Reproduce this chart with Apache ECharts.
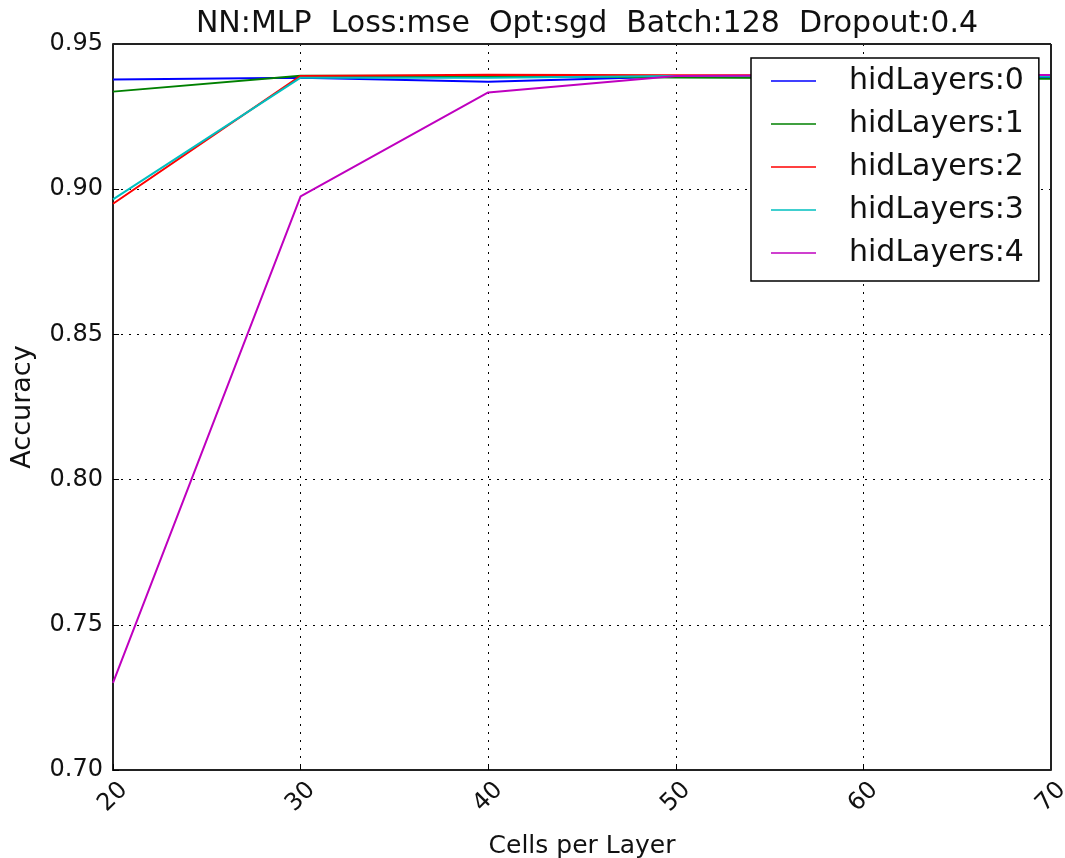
<!DOCTYPE html>
<html><head><meta charset="utf-8">
<script src="https://cdn.jsdelivr.net/npm/echarts@6/dist/echarts.min.js"></script>
<style>html,body{margin:0;padding:0;background:#fff}#c{width:1065px;height:858px}</style>
</head><body><div id="c"></div>
<script>
const cells = [20, 30, 40, 50, 60, 70];
const seriesNames = ['hidLayers:0','hidLayers:1','hidLayers:2','hidLayers:3','hidLayers:4'];
const hid0 = [0.9378, 0.9384, 0.9370, 0.9388, 0.9388, 0.9385];
const hid1 = [0.9336, 0.9391, 0.9390, 0.9385, 0.9382, 0.9380];
const hid2 = [0.8950, 0.9390, 0.9394, 0.9392, 0.9392, 0.9390];
const hid3 = [0.8965, 0.9384, 0.9384, 0.9390, 0.9390, 0.9388];
const hid4 = [0.7300, 0.8975, 0.9333, 0.9390, 0.9392, 0.9393];
const yTicks = [0.70, 0.75, 0.80, 0.85, 0.90, 0.95];
const colors = ['#0000ff','#008000','#ff0000','#00bfbf','#bf00bf'];
const allData = [hid0, hid1, hid2, hid3, hid4];

const chart = echarts.init(document.getElementById('c'));
const font = 'DejaVu Sans';
chart.setOption({
  animation: false,
  title: {text: 'NN:MLP  Loss:mse  Opt:sgd  Batch:128  Dropout:0.4', left: 582, textAlign: 'center', top: 4,
    textStyle: {fontFamily: font, fontSize: 30, fontWeight: 'normal', color: '#111'}},
  grid: {left: 113, right: 14, top: 44, bottom: 88, containLabel: false, outerBoundsMode: 'none'},
  legend: {
    left: 751, top: 58, orient: 'vertical', backgroundColor: '#fff',
    borderColor: '#000', borderWidth: 1.5, padding: [8, 15, 13, 20],
    itemWidth: 45, itemHeight: 14, itemGap: 13, icon: 'path://M0,6 L45,6 L45,7.6 L0,7.6 Z',
    textStyle: {fontFamily: font, fontSize: 30, color: '#111', padding: [0, 0, 0, 28]},
    data: seriesNames
  },
  xAxis: {
    type: 'value', min: 20, max: 70, interval: 10,
    name: 'Cells per Layer', nameLocation: 'middle', nameGap: 64,
    nameTextStyle: {fontFamily: font, fontSize: 25, color: '#111'},
    axisLine: {lineStyle: {color: '#222', width: 2}},
    axisTick: {inside: true, length: 6, lineStyle: {color: '#000'}},
    axisLabel: {rotate: 45, align: 'center', verticalAlign: 'middle', fontFamily: font, fontSize: 24, color: '#111', margin: 27},
    splitLine: {show: true, lineStyle: {color: '#000', type: [2, 6], width: 1}}
  },
  yAxis: {
    type: 'value', min: 0.70, max: 0.95, interval: 0.05,
    name: 'Accuracy', nameLocation: 'middle', nameGap: 77,
    nameTextStyle: {fontFamily: font, fontSize: 27, color: '#111'},
    axisLine: {show: true, lineStyle: {color: '#222', width: 2}},
    axisTick: {show: true, inside: true, length: 6, lineStyle: {color: '#000'}},
    axisLabel: {fontFamily: font, fontSize: 24, color: '#111', margin: 10,
      formatter: v => yTicks.find(t => Math.abs(t - v) < 1e-6) !== undefined ? v.toFixed(2) : ''},
    splitLine: {show: true, lineStyle: {color: '#000', type: [2, 6], width: 1}}
  },
  series: allData.map((d, i) => ({
    name: seriesNames[i], type: 'line', symbol: 'none', color: colors[i],
    lineStyle: {width: 2, color: colors[i]},
    data: cells.map((c, j) => [c, d[j]])
  })).concat([{
    type: 'line', silent: true, data: [],
    markLine: {silent: true, symbol: 'none', label: {show: false},
      lineStyle: {color: '#222', width: 2, type: 'solid'},
      data: [[{coord: [20, 0.95]}, {coord: [70, 0.95]}], [{coord: [70, 0.70]}, {coord: [70, 0.95]}]]}
  }])
});
</script></body></html>
